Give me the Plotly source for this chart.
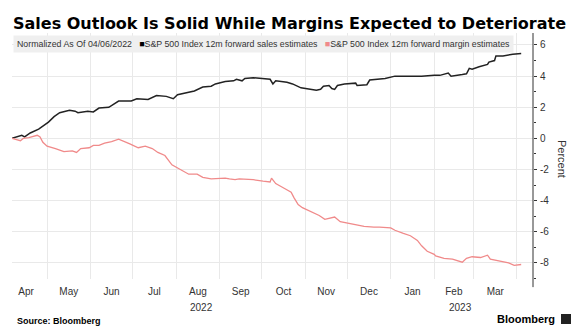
import plotly.graph_objects as go

title_text = "Sales Outlook Is Solid While Margins Expected to Deteriorate"
legend_prefix = "Normalized As Of 04/06/2022"
sales_name = "S&P 500 Index 12m forward sales estimates"
margin_name = "S&P 500 Index 12m forward margin estimates"

sales_dates = ["2022-04-06", "2022-04-13", "2022-04-15", "2022-04-19", "2022-04-25", "2022-05-02",
               "2022-05-06", "2022-05-10", "2022-05-17", "2022-05-21", "2022-05-23", "2022-05-30",
               "2022-06-03", "2022-06-07", "2022-06-14", "2022-06-18", "2022-06-21", "2022-06-30",
               "2022-07-04", "2022-07-12", "2022-07-18", "2022-07-25", "2022-07-30", "2022-08-02",
               "2022-08-14", "2022-08-20", "2022-08-26", "2022-08-29", "2022-09-05", "2022-09-11",
               "2022-09-13", "2022-09-17", "2022-09-19", "2022-09-25", "2022-10-05", "2022-10-07",
               "2022-10-09", "2022-10-11", "2022-10-19", "2022-10-23", "2022-10-29", "2022-11-04",
               "2022-11-09", "2022-11-12", "2022-11-14", "2022-11-18", "2022-11-20", "2022-11-22",
               "2022-11-24", "2022-11-29", "2022-12-07", "2022-12-08", "2022-12-15", "2022-12-17",
               "2022-12-21", "2022-12-28", "2023-01-04", "2023-01-13", "2023-01-23", "2023-02-01",
               "2023-02-05", "2023-02-11", "2023-02-13", "2023-02-21", "2023-02-24", "2023-02-26",
               "2023-02-28", "2023-03-05", "2023-03-11", "2023-03-12", "2023-03-16", "2023-03-17",
               "2023-03-22", "2023-03-29", "2023-04-04"]
sales_vals = [0.0, 0.2, 0.1, 0.35, 0.6, 1.05,
              1.4, 1.65, 1.8, 1.75, 1.65, 1.75,
              1.7, 1.95, 2.0, 2.25, 2.4, 2.4,
              2.55, 2.5, 2.75, 2.7, 2.55, 2.8,
              3.05, 3.3, 3.35, 3.5, 3.65, 3.7,
              3.8, 3.7, 3.85, 3.9, 3.85, 3.8,
              3.5, 3.7, 3.6, 3.5, 3.25, 3.15,
              3.1, 3.15, 3.35, 3.4, 3.2, 3.15,
              3.4, 3.5, 3.55, 3.4, 3.45, 3.75,
              3.8, 3.85, 4.0, 4.0, 4.0, 4.05,
              4.05, 4.2, 4.0, 4.1, 4.15, 4.5,
              4.45, 4.6, 4.75, 4.9, 5.0, 5.3,
              5.3, 5.4, 5.45]

margin_dates = ["2022-04-06", "2022-04-12", "2022-04-14", "2022-04-18", "2022-04-24", "2022-04-26",
                "2022-04-28", "2022-05-01", "2022-05-07", "2022-05-13", "2022-05-19", "2022-05-22",
                "2022-05-25", "2022-05-31", "2022-06-03", "2022-06-07", "2022-06-11", "2022-06-16",
                "2022-06-21", "2022-06-24", "2022-06-29", "2022-07-05", "2022-07-10", "2022-07-15",
                "2022-07-19", "2022-07-24", "2022-07-29", "2022-08-04", "2022-08-10", "2022-08-16",
                "2022-08-20", "2022-08-26", "2022-09-05", "2022-09-08", "2022-09-12", "2022-09-15",
                "2022-09-25", "2022-10-02", "2022-10-07", "2022-10-08", "2022-10-11", "2022-10-17",
                "2022-10-22", "2022-10-24", "2022-10-27", "2022-10-30", "2022-11-05", "2022-11-11",
                "2022-11-15", "2022-11-20", "2022-11-22", "2022-11-26", "2022-12-04", "2022-12-13",
                "2022-12-20", "2022-12-24", "2023-01-01", "2023-01-04", "2023-01-10", "2023-01-15",
                "2023-01-20", "2023-01-23", "2023-01-27", "2023-02-01", "2023-02-02", "2023-02-08",
                "2023-02-14", "2023-02-21", "2023-02-24", "2023-02-28", "2023-03-06", "2023-03-11",
                "2023-03-13", "2023-03-19", "2023-03-26", "2023-03-30", "2023-04-04"]
margin_vals = [0.0, -0.15, 0.0, 0.05, 0.2, 0.1,
               -0.25, -0.5, -0.65, -0.85, -0.8, -0.9,
               -0.65, -0.6, -0.45, -0.45, -0.3, -0.2,
               -0.05, -0.15, -0.35, -0.6, -0.5, -0.65,
               -0.9, -1.1, -1.7, -2.0, -2.3, -2.3,
               -2.5, -2.6, -2.55, -2.6, -2.65, -2.6,
               -2.65, -2.75, -2.8, -2.55, -2.9, -3.2,
               -3.45, -3.8, -4.25, -4.45, -4.7, -4.95,
               -5.2, -5.1, -5.05, -5.35, -5.5, -5.65,
               -5.7, -5.7, -5.75, -5.9, -6.1, -6.25,
               -6.55, -6.9, -7.25, -7.45, -7.55, -7.7,
               -7.75, -7.95, -7.7, -7.6, -7.65, -7.5,
               -7.75, -7.85, -8.0, -8.15, -8.1]

y_tick_vals = [6, 4, 2, 0, -2, -4, -6, -8]
y_tick_text = ["6", "4", "2", "0", "-2", "-4", "-6", "-8"]
y_minor_vals = [5, 3, 1, -1, -3, -5, -7, -9]
year_labels = ["2022", "2023"]
year_label_dates = ["2022-08-19", "2023-02-20"]

x_range = ["2022-04-06", "2023-04-12 10:00"]
y_range = [-9.03, 6.77]

SALES_COLOR = "#222222"
MARGIN_COLOR = "#f08a8a"
TEXT_COLOR = "#333333"
FONT = "Liberation Sans"

fig = go.Figure()
fig.add_trace(go.Scatter(x=sales_dates, y=sales_vals, mode="lines", name=sales_name,
                         line=dict(color=SALES_COLOR, width=1.5), showlegend=False))
fig.add_trace(go.Scatter(x=margin_dates, y=margin_vals, mode="lines", name=margin_name,
                         line=dict(color=MARGIN_COLOR, width=1.3), showlegend=False))

fig.update_layout(
    width=582, height=335,
    margin=dict(l=12, r=49, t=33, b=56),
    paper_bgcolor="white", plot_bgcolor="white",
    font=dict(family=FONT, size=10, color=TEXT_COLOR),
    title=dict(text="<b>" + title_text + "</b>", x=13 / 582, xanchor="left", xref="container",
               y=1 - 23.5 / 335, yanchor="middle", yref="container",
               font=dict(family="DejaVu Sans", size=16, color="#000000")),
    xaxis=dict(range=x_range, type="date", dtick="M1", tick0="2022-05-01",
               ticklabelmode="period", tickformat="%b", ticks="", showline=False,
               showgrid=True, gridcolor="#e9e9e9", gridwidth=1, zeroline=False,
               ticklabelstandoff=5, tickfont=dict(size=10, color=TEXT_COLOR)),
    yaxis=dict(range=y_range, side="right", tickmode="array", tickvals=y_tick_vals,
               ticktext=y_tick_text, ticks="outside", ticklen=3, tickcolor=TEXT_COLOR,
               showgrid=True, gridcolor="#e9e9e9", gridwidth=1, zeroline=False,
               showline=False, ticklabelstandoff=1,
               minor=dict(tickmode="array", tickvals=y_minor_vals, ticks="outside",
                          ticklen=2, tickcolor=TEXT_COLOR, showgrid=False),
               tickfont=dict(size=10, color=TEXT_COLOR)),
    showlegend=False,
)

# right axis line extending slightly below plot
fig.add_shape(type="line", xref="paper", yref="paper", x0=1, x1=1, y0=-0.033, y1=1,
              line=dict(color=TEXT_COLOR, width=1))

legend_html = (legend_prefix + "   <span style='color:#000000'>■</span>" + sales_name +
               "   <span style='color:" + MARGIN_COLOR + "'>■</span>" + margin_name)
fig.add_annotation(text=legend_html, xref="paper", yref="paper", x=(13 - 12) / 521, y=1 - 2 / 246,
                   xanchor="left", yanchor="top", showarrow=False, align="left",
                   bgcolor="#efefef", borderpad=3,
                   font=dict(family=FONT, size=8.8, color=TEXT_COLOR))

for lbl, d in zip(year_labels, year_label_dates):
    fig.add_annotation(text=lbl, x=d, xref="x", yref="paper", y=(279 - 307) / 246,
                       yanchor="middle", showarrow=False,
                       font=dict(family=FONT, size=10, color=TEXT_COLOR))

fig.add_annotation(text="Percent", xref="paper", yref="paper", x=(562 - 12) / 521, y=(279 - 159) / 246,
                   xanchor="center", yanchor="middle", textangle=90, showarrow=False,
                   font=dict(family=FONT, size=11, color=TEXT_COLOR))

fig.add_annotation(text="<b>Source: Bloomberg</b>", xref="paper", yref="paper",
                   x=(15 - 12) / 521, y=(279 - 321) / 246, xanchor="left", yanchor="middle",
                   showarrow=False, font=dict(family=FONT, size=9, color="#000000"))
fig.add_annotation(text="<b>Bloomberg</b>", xref="paper", yref="paper",
                   x=(557 - 12) / 521, y=(279 - 319) / 246, xanchor="right", yanchor="middle",
                   showarrow=False, font=dict(family=FONT, size=11, color="#000000"))
fig.add_shape(type="rect", xref="paper", yref="paper",
              x0=(561 - 12) / 521, x1=(571 - 12) / 521, y0=(279 - 324) / 246, y1=(279 - 314) / 246,
              fillcolor="#222222", line=dict(width=0))

fig.write_html("out.html")
